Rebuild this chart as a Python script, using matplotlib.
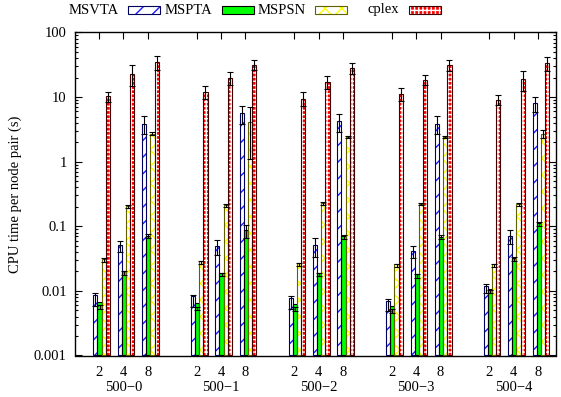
import numpy as np
import matplotlib
matplotlib.use("Agg")
import matplotlib.pyplot as plt
from matplotlib.patches import Rectangle

plt.rcParams['font.family'] = ['Liberation Serif', 'DejaVu Serif']
plt.rcParams['font.size'] = 10.5
plt.rcParams['hatch.linewidth'] = 1.0

groups = ['500\u22120', '500\u22121', '500\u22122', '500\u22123', '500\u22124']
sizes = ['2', '4', '8']
series = ['MSVTA', 'MSPTA', 'MSPSN', 'cplex']

# values per group, 3 sizes each (2, 4, 8)
msvta = [0.0075, 0.050, 3.9,  0.0072, 0.049, 5.6,  0.0068, 0.050, 4.2,
         0.0061, 0.041, 3.9,  0.011, 0.071, 8.0]
msvta_err = [0.0017, 0.010, 1.2,  0.0015, 0.013, 1.8,  0.0015, 0.016, 1.3,
             0.0013, 0.009, 1.2,  0.0017, 0.018, 2.2]
mspta = [0.0057, 0.019, 0.071,  0.0054, 0.018, 0.086,  0.0053, 0.018, 0.069,
         0.0049, 0.017, 0.068,  0.0098, 0.031, 0.11]
mspta_err = [0.0004, 0.0012, 0.005,  0.0003, 0.0012, 0.02,  0.0004, 0.0012, 0.005,
             0.0003, 0.0010, 0.005,  0.0005, 0.002, 0.008]
mspsn = [0.030, 0.205, 2.7,  0.028, 0.21, 4.1,  0.0257, 0.225, 2.42,
         0.025, 0.22, 2.4,  0.025, 0.22, 2.7]
mspsn_err = [0.002, 0.01, 0.15,  0.0015, 0.01, 3.0,  0.0015, 0.012, 0.1,
             0.0015, 0.01, 0.1,  0.0015, 0.012, 0.35]
cplex = [10.3, 23, 35,  12.2, 20, 31.6,  9.5, 17.2, 28.3,
         11.3, 18.5, 31.6,  9.1, 19, 34]
cplex_err = [1.9, 8, 9,  2.9, 4.8, 5.4,  2.3, 4.0, 5.4,
             2.7, 3.1, 6.3,  1.5, 6.5, 8.5]

data = [msvta, mspta, mspsn, cplex]
errs = [msvta_err, mspta_err, mspsn_err, cplex_err]
faces = ['white', '#00ff00', 'white', '#ff0000']
hatch_cols = ['#1a1aff', '#00ff00', '#ffff00', 'white']
hatches = ['//', None, 'xx', '++++']
edges = ['#000060', 'black', '#606000', '#400000']

fig = plt.figure(figsize=(5.61, 3.97), dpi=100)
ax = fig.add_axes([75 / 561, 1 - 355.5 / 397, 481 / 561, 323 / 397])

ticks = np.array([4 * g + j for g in range(len(groups)) for j in range(3)])
w = 0.17
offs = [0.11 + (i - 1.5) * w for i in range(4)]

for i in range(4):
    x = ticks + offs[i]
    ax.bar(x, data[i], w, bottom=0.001, color=faces[i], edgecolor=hatch_cols[i],
           hatch=hatches[i], linewidth=0, zorder=2)
    ax.bar(x, data[i], w, bottom=0.001, fill=False, edgecolor=edges[i],
           linewidth=0.8, zorder=3)
    ax.errorbar(x, data[i], yerr=errs[i], fmt='none', ecolor='black',
                elinewidth=0.8, capsize=2.2, capthick=0.8, zorder=4)

ax.set_yscale('log')
ax.set_ylim(0.001, 100)
ax.set_xlim(-0.98, 18.73)
ax.set_yticks([0.001, 0.01, 0.1, 1, 10, 100])
ax.set_yticklabels(['0.001', '0.01', '0.1', '1', '10', '100'])
ax.set_xticks(ticks)
ax.set_xticklabels(sizes * len(groups))
ax.tick_params(which='both', direction='in', top=True, right=True, width=0.8)
ax.tick_params(which='major', length=5)
ax.tick_params(axis='x', pad=7.5)
ax.tick_params(axis='y', pad=6)
ax.tick_params(which='minor', length=2.5)
ax.tick_params(axis='x', which='minor', bottom=False, top=False)
for s in ax.spines.values():
    s.set_linewidth(1.0)

for g, name in enumerate(groups):
    ax.text(4 * g + 1, -0.1, name, transform=ax.get_xaxis_transform(),
            ha='center', va='center')

ax.set_ylabel('CPU time per node pair (s)')
ax.yaxis.set_label_coords(-0.11, 0.5)

# legend drawn by hand: text to the left of each sample
for i, name in enumerate(series):
    x0 = 128 + 93.5 * i
    fig.text((x0 - 9) / 561, 1 - 10 / 397, name, ha='right', va='center')
    for kw in [dict(facecolor=faces[i], edgecolor=hatch_cols[i], hatch=hatches[i], linewidth=0),
               dict(fill=False, edgecolor=edges[i], linewidth=0.8)]:
        fig.patches.append(Rectangle((x0 / 561, 1 - 13.5 / 397), 32 / 561, 8 / 397,
                                     transform=fig.transFigure, figure=fig, **kw))

fig.savefig('out.png', dpi=100)
